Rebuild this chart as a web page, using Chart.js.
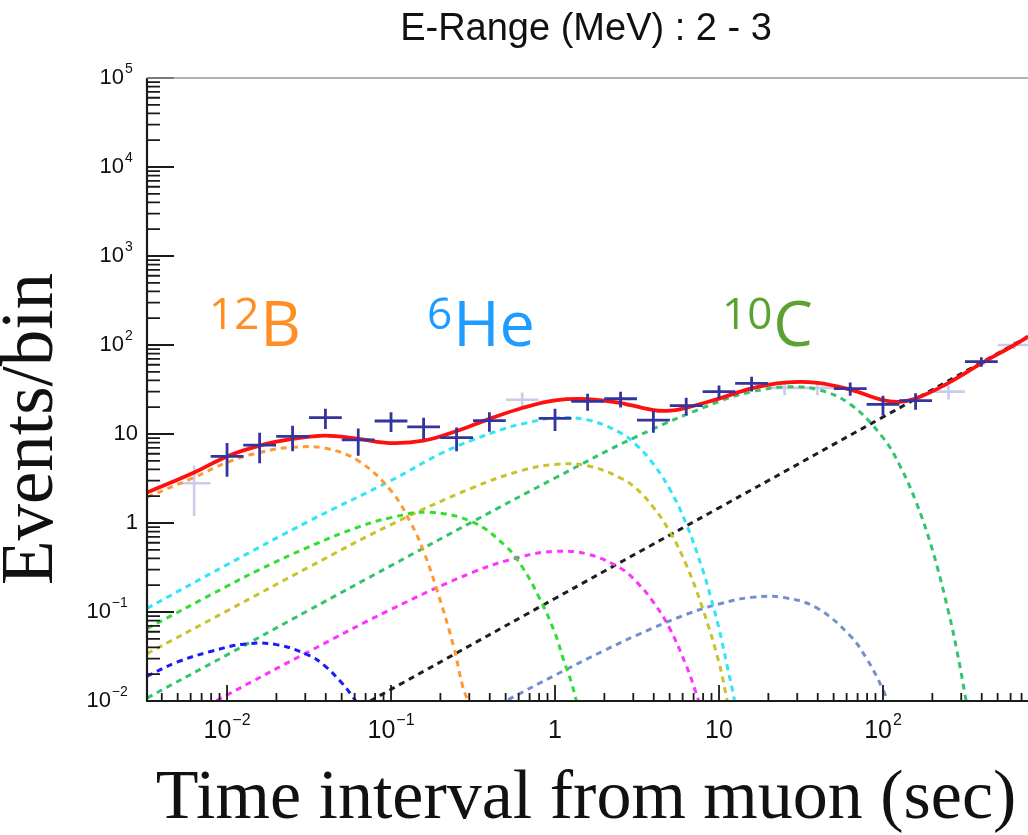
<!DOCTYPE html>
<html>
<head>
<meta charset="utf-8">
<script src="https://cdn.jsdelivr.net/npm/chart.js@4.4.1/dist/chart.umd.min.js"></script>
<style>
  html, body { margin: 0; padding: 0; background: #fff; }
  #wrap { width: 1028px; height: 835px; }
</style>
</head>
<body>
<div id="wrap"><canvas id="chart" width="1028" height="835"></canvas></div>
<script>
// measured events per log bin (0.2 decade wide)
const binFactor = 1.259;
const dataX   = [0.01, 0.0158, 0.0251, 0.0398, 0.0631, 0.1, 0.158, 0.251, 0.398, 1, 1.58, 2.51, 3.98, 6.31, 10, 15.8, 63.1, 100, 158, 398];
const dataY   = [5.6, 7.5, 9.4, 15.3, 8.6, 14.0, 12.0, 9.1, 14.1, 15.0, 23.3, 24.9, 14.3, 20.8, 30, 37, 32.4, 21.5, 23.7, 65];
const dataErr = [2.3, 2.8, 3.0, 3.9, 2.9, 3.5, 3.2, 2.7, 3.5, 4.2, 5.0, 5.0, 4.0, 4.7, 5.0, 7.0, 5.5, 5.4, 5.0, 8.0];
const paleX   = [0.0063, 0.631, 25.1, 39.8, 251, 631];
const paleY   = [2.8, 24.3, 33, 33, 29.9, 100];
const paleErr = [1.6, 5.0, 5.7, 5.7, 5.5, 10];

// total fit
const totalX = [0.00325, 0.0063, 0.01, 0.0158, 0.0251, 0.0398, 0.0631, 0.1, 0.158, 0.251, 0.398, 0.631, 1, 1.58, 2.51, 3.98, 5.01, 6.31, 10, 15.8, 25.1, 39.8, 63.1, 100, 126, 158, 251, 398, 631, 766];
const totalY = [2.2, 3.7, 5.6, 7.4, 8.8, 9.6, 8.8, 7.9, 8.4, 10.8, 14.8, 19.6, 23.9, 24.7, 22.3, 18.6, 18.3, 19.7, 25.0, 32.6, 37.8, 37.6, 31.5, 24.0, 23.0, 25.0, 37.5, 62, 100, 124];

// fit components
const b12X = [0.00325, 0.0063, 0.01, 0.0158, 0.0251, 0.0398, 0.0631, 0.1, 0.132, 0.158, 0.19, 0.24, 0.275, 0.3, 0.33];
const b12Y = [1.95, 3.25, 4.8, 6.2, 7.1, 6.9, 5.0, 2.3, 1.0, 0.48, 0.18, 0.042, 0.014, 0.009, 0.003];
const he6X = [0.00325, 0.01, 0.0316, 0.1, 0.2, 0.316, 0.5, 0.631, 1, 1.58, 2.51, 3.16, 3.98, 5.01, 6.31, 7.94, 8.91, 10, 11.2, 12.6, 13.5];
const he6Y = [0.11, 0.34, 1.05, 3.0, 6.0, 8.6, 11.6, 13.0, 15.1, 14.4, 10.3, 7.4, 4.6, 2.4, 0.98, 0.30, 0.146, 0.065, 0.025, 0.0087, 0.003];
const he8X = [0.00325, 0.01, 0.0158, 0.0316, 0.0631, 0.1, 0.17, 0.316, 0.5, 0.631, 0.794, 1, 1.12, 1.26, 1.4, 1.5];
const he8Y = [0.065, 0.195, 0.3, 0.54, 0.9, 1.15, 1.32, 1.02, 0.55, 0.32, 0.15, 0.058, 0.03, 0.016, 0.0075, 0.004];
const li8X = [0.00325, 0.01, 0.0316, 0.1, 0.316, 0.631, 1, 1.58, 2.51, 3.16, 3.98, 5.01, 6.31, 7.94, 10, 11.2, 12.6];
const li8Y = [0.034, 0.103, 0.32, 0.96, 2.5, 3.9, 4.55, 4.4, 3.2, 2.4, 1.5, 0.8, 0.34, 0.11, 0.027, 0.0102, 0.0036];
const n12X = [0.00325, 0.005, 0.00794, 0.0126, 0.02, 0.0316, 0.0398, 0.05, 0.0562, 0.0631, 0.0708, 0.0794];
const n12Y = [0.019, 0.0275, 0.036, 0.0435, 0.043, 0.0325, 0.0245, 0.016, 0.0123, 0.009, 0.0062, 0.004];
const c10X = [0.00325, 0.01, 0.0316, 0.1, 0.316, 1, 3.16, 10, 15.8, 25.1, 39.8, 63.1, 100, 126, 158, 200, 251, 282, 316, 355];
const c10Y = [0.0108, 0.033, 0.105, 0.332, 1.04, 3.2, 9.4, 23.2, 29.7, 33.8, 31.6, 21.6, 9.1, 4.5, 1.78, 0.5, 0.1, 0.037, 0.012, 0.0034];
const b8X  = [0.005, 0.00794, 0.01, 0.0316, 0.1, 0.316, 0.631, 1, 1.58, 2.51, 3.16, 3.98, 5.01, 6.31, 7.08, 7.94];
const b8Y  = [0.0059, 0.0093, 0.0117, 0.036, 0.107, 0.28, 0.42, 0.48, 0.447, 0.31, 0.215, 0.129, 0.065, 0.025, 0.014, 0.0073];
const be11X = [0.2, 0.316, 0.5, 1, 2, 3.16, 6.31, 10, 15.8, 25.1, 39.8, 63.1, 79.4, 100, 126];
const be11Y = [0.004, 0.0064, 0.010, 0.0195, 0.037, 0.055, 0.094, 0.123, 0.146, 0.145, 0.11, 0.054, 0.03, 0.0133, 0.0046];
const bgX = [0.0745, 1, 10, 100, 766];
const bgY = [0.01, 0.142, 1.48, 15.5, 124];

// axes
const xMin = 0.00325, xMax = 766;
const yMin = 0.01, yMax = 1e5;
const xTickValues = [0.01, 0.1, 1, 10, 100];
const xTickLabels = [['10', '\u22122'], ['10', '\u22121'], ['1', ''], ['10', ''], ['10', '2']];
const yTickValues = [0.01, 0.1, 1, 10, 100, 1000, 10000, 100000];
const yTickLabels = [['10', '\u22122'], ['10', '\u22121'], ['1', ''], ['10', ''], ['10', '2'], ['10', '3'], ['10', '4'], ['10', '5']];

const titleText = 'E-Range (MeV) : 2 - 3';
const xTitle = 'Time interval from muon (sec)';
const yTitle = 'Events/bin';
const isotopeLabels = [
  { mass: '12', name: 'B',  color: '#ff8f24', x: 209, y: 346 },
  { mass: '6',  name: 'He', color: '#1e9cff', x: 427, y: 346 },
  { mass: '10', name: 'C',  color: '#5ca232', x: 722, y: 346 }
];

const pts = (xs, ys) => xs.map((x, i) => ({ x: x, y: ys[i] }));

function component(data, color, order) {
  return {
    data: data, borderColor: color, borderWidth: 3, borderDash: [6, 5],
    pointRadius: 0, fill: false, tension: 0.4, order: order
  };
}

const SANS = '"Liberation Sans", Arial, Helvetica, sans-serif';
const SERIF = '"Liberation Serif", "Times New Roman", serif';

function drawCrosses(chart, xs, ys, errs, color, width) {
  const { ctx, chartArea: a, scales } = chart;
  ctx.save();
  ctx.beginPath();
  ctx.rect(a.left, a.top, a.right - a.left, a.bottom - a.top);
  ctx.clip();
  ctx.strokeStyle = color;
  ctx.lineWidth = width;
  xs.forEach((x, i) => {
    const px = scales.x.getPixelForValue(x);
    const py = scales.y.getPixelForValue(ys[i]);
    const x0 = scales.x.getPixelForValue(x / binFactor);
    const x1 = scales.x.getPixelForValue(x * binFactor);
    const y0 = scales.y.getPixelForValue(ys[i] + errs[i]);
    const y1 = scales.y.getPixelForValue(Math.max(ys[i] - errs[i], 1e-3));
    ctx.beginPath();
    ctx.moveTo(x0, py); ctx.lineTo(x1, py);
    ctx.moveTo(px, y0); ctx.lineTo(px, y1);
    ctx.stroke();
  });
  ctx.restore();
}

// base text with an optional superscript; align = 'center' or 'right'
function powLabel(ctx, base, exp, x, y, size, align, rightShift) {
  const esize = Math.round(size * 0.64);
  ctx.font = size + 'px ' + SANS;
  const bw = ctx.measureText(base).width;
  ctx.font = esize + 'px ' + SANS;
  const ew = exp ? ctx.measureText(exp).width + 1 : 0;
  let left;
  if (align === 'center') left = x - (bw + ew) / 2;
  else left = x - bw - ew - (exp ? ew * rightShift : 0);
  ctx.textBaseline = 'middle';
  ctx.textAlign = 'left';
  ctx.font = size + 'px ' + SANS;
  ctx.fillText(base, left, y);
  if (exp) {
    ctx.font = esize + 'px ' + SANS;
    ctx.fillText(exp, left + bw + 1, y - size * 0.42);
  }
}

const frame = {
  id: 'frame',
  beforeDatasetsDraw(chart) {
    drawCrosses(chart, paleX, paleY, paleErr, 'rgba(150,150,215,0.5)', 2.6);
  },
  afterDatasetsDraw(chart) {
    drawCrosses(chart, dataX, dataY, dataErr, '#34349e', 2.8);
  },
  afterDraw(chart) {
    const { ctx, chartArea: a, scales: { x, y } } = chart;
    ctx.save();
    ctx.fillStyle = '#111';
    ctx.strokeStyle = '#1a1a1a';

    // tick marks on the log axes
    ctx.lineWidth = 1.8;
    ctx.beginPath();
    for (let e = -3; e <= 2; e++) {
      for (let m = 1; m <= 9; m++) {
        const v = m * Math.pow(10, e);
        if (v < xMin || v > xMax) continue;
        const px = x.getPixelForValue(v);
        ctx.moveTo(px, a.bottom);
        ctx.lineTo(px, a.bottom - (m === 1 ? 16 : 8));
      }
    }
    for (let e = -2; e <= 5; e++) {
      for (let m = 1; m <= 9; m++) {
        const v = m * Math.pow(10, e);
        if (v > yMax * 1.0001) continue;
        const py = y.getPixelForValue(v);
        ctx.moveTo(a.left, py);
        ctx.lineTo(a.left + (m === 1 ? 27 : 13), py);
      }
    }
    ctx.stroke();

    // frame
    ctx.lineWidth = 2.2;
    ctx.beginPath();
    ctx.moveTo(a.left, a.top);
    ctx.lineTo(a.left, a.bottom);
    ctx.lineTo(a.right, a.bottom);
    ctx.stroke();
    ctx.strokeStyle = '#9a9a9a';
    ctx.lineWidth = 1.5;
    ctx.beginPath();
    ctx.moveTo(a.left, a.top);
    ctx.lineTo(a.right, a.top);
    ctx.stroke();

    // tick labels
    xTickValues.forEach((v, i) => {
      powLabel(ctx, xTickLabels[i][0], xTickLabels[i][1], x.getPixelForValue(v), 731, 25, 'center', 0);
    });
    yTickValues.forEach((v, i) => {
      powLabel(ctx, yTickLabels[i][0], yTickLabels[i][1], 138, y.getPixelForValue(v), 22, 'right', 0.6);
    });

    // titles
    ctx.textBaseline = 'alphabetic';
    ctx.textAlign = 'center';
    ctx.font = '38px ' + SANS;
    ctx.fillText(titleText, 586, 40);
    ctx.font = '70px ' + SERIF;
    ctx.fillText(xTitle, 586, 818);
    ctx.save();
    ctx.translate(52, 429);
    ctx.rotate(-Math.PI / 2);
    ctx.font = '73px ' + SERIF;
    ctx.fillText(yTitle, 0, 0);
    ctx.restore();

    // isotope names
    ctx.textAlign = 'left';
    isotopeLabels.forEach(l => {
      ctx.fillStyle = l.color;
      ctx.font = '44px "Open Sans", "Noto Sans", sans-serif';
      const mw = ctx.measureText(l.mass).width;
      ctx.fillText(l.mass, l.x, l.y - 17);
      ctx.font = '63px "Open Sans", "Noto Sans", sans-serif';
      ctx.fillText(l.name, l.x + mw + 1, l.y);
    });
    ctx.restore();
  }
};

new Chart(document.getElementById('chart'), {
  type: 'line',
  data: {
    datasets: [
      { data: pts(totalX, totalY), borderColor: '#ff1010', borderWidth: 3.8, pointRadius: 0,
        fill: false, tension: 0.4, order: 0 },
      component(pts(b12X, b12Y), '#ff9a33', 1),
      component(pts(he6X, he6Y), '#2ee6f5', 1),
      component(pts(he8X, he8Y), '#33dd33', 1),
      component(pts(li8X, li8Y), '#c9c22e', 1),
      component(pts(n12X, n12Y), '#1a1aff', 1),
      component(pts(c10X, c10Y), '#33c46c', 1),
      component(pts(b8X, b8Y), '#ff33ff', 1),
      component(pts(be11X, be11Y), '#7090d0', 1),
      component(pts(bgX, bgY), '#1e1e1e', 1)
    ]
  },
  options: {
    responsive: false,
    animation: false,
    devicePixelRatio: 1,
    layout: { padding: { left: 147, right: 0, top: 78, bottom: 134 } },
    plugins: { legend: { display: false }, tooltip: { enabled: false }, title: { display: false } },
    scales: {
      x: { type: 'logarithmic', min: xMin, max: xMax, display: false },
      y: { type: 'logarithmic', min: yMin, max: yMax, display: false }
    }
  },
  plugins: [frame]
});
</script>
</body>
</html>
